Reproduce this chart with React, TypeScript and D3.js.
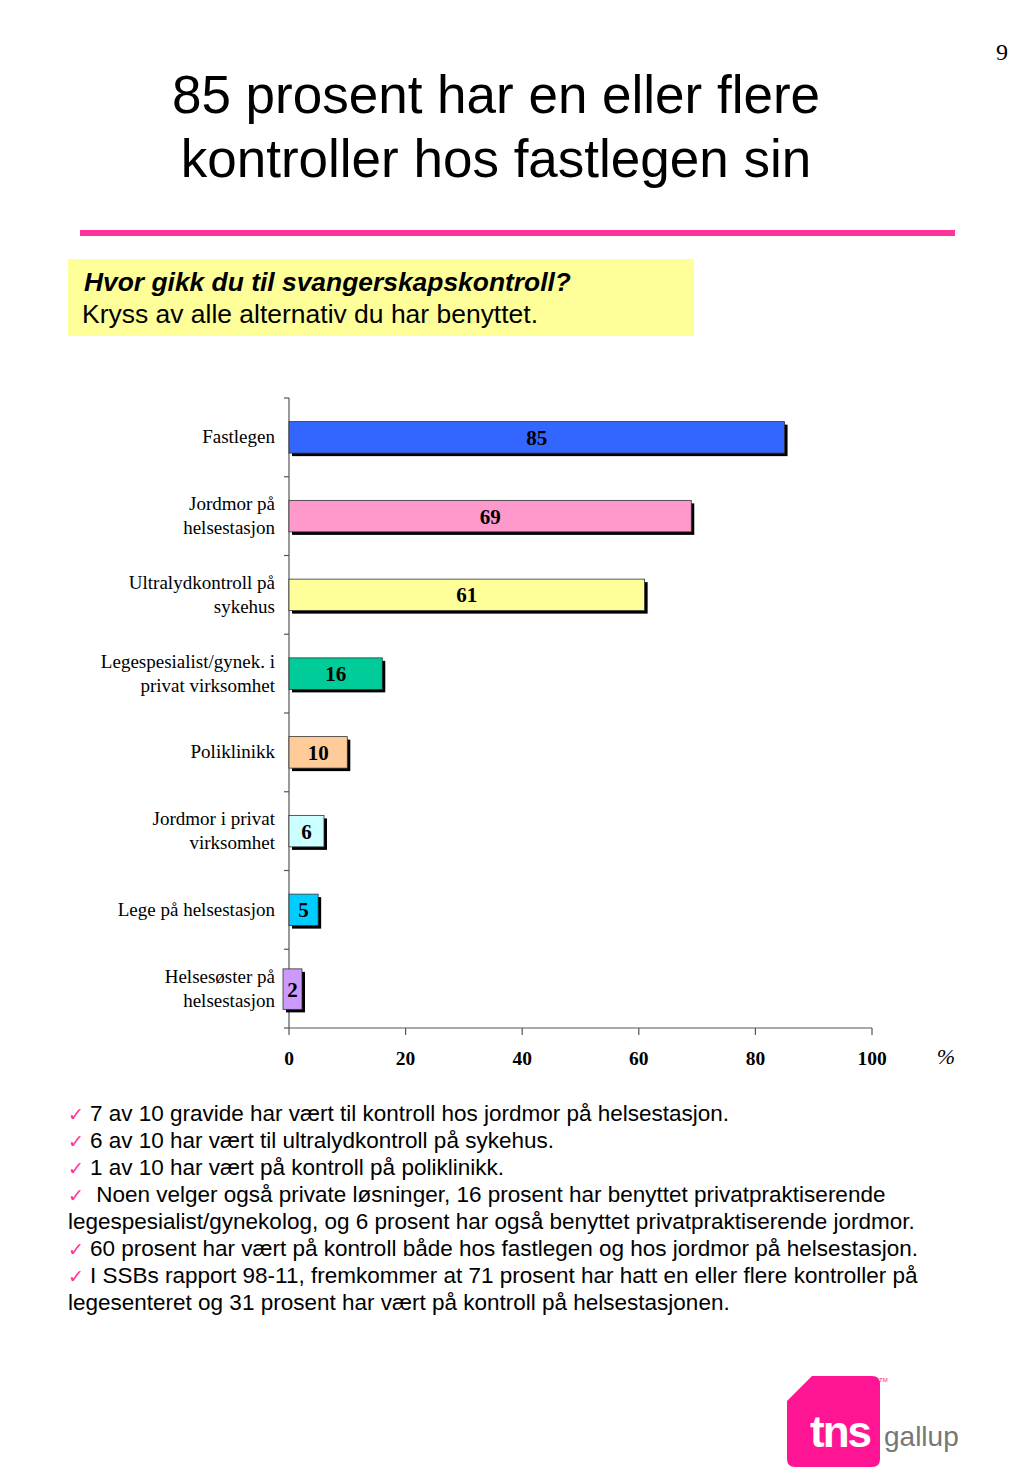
import React from "react";
import * as d3 from "d3";

const categories: string[][] = [
  ["Fastlegen"],
  ["Jordmor på", "helsestasjon"],
  ["Ultralydkontroll på", "sykehus"],
  ["Legespesialist/gynek. i", "privat virksomhet"],
  ["Poliklinikk"],
  ["Jordmor i privat", "virksomhet"],
  ["Lege på helsestasjon"],
  ["Helsesøster på", "helsestasjon"],
];
const values: number[] = [85, 69, 61, 16, 10, 6, 5, 2];
const colors: string[] = ["#3366FF", "#FF99CC", "#FFFF99", "#00CC99", "#FFCC99", "#CCFFFF", "#00CCFF", "#CC99FF"];
const xTicks: number[] = [0, 20, 40, 60, 80, 100];

const titleLines = ["85 prosent har en eller flere", "kontroller hos fastlegen sin"];
const questionLines = ["Hvor gikk du til svangerskapskontroll?", "Kryss av alle alternativ du har benyttet."];
const bullets: { check: boolean; text: string }[] = [
  { check: true, text: "7 av 10 gravide har vært til kontroll hos jordmor på helsestasjon." },
  { check: true, text: "6 av 10 har vært til ultralydkontroll på sykehus." },
  { check: true, text: "1 av 10 har vært på kontroll på poliklinikk." },
  { check: true, text: " Noen velger også private løsninger, 16 prosent har benyttet privatpraktiserende" },
  { check: false, text: "legespesialist/gynekolog, og 6 prosent har også benyttet privatpraktiserende jordmor." },
  { check: true, text: "60 prosent har vært på kontroll både hos fastlegen og hos jordmor på helsestasjon." },
  { check: true, text: "I SSBs rapport 98-11, fremkommer at 71 prosent har hatt en eller flere kontroller på" },
  { check: false, text: "legesenteret og 31 prosent har vært på kontroll på helsestasjonen." },
];

const serif = "'Liberation Serif', 'Times New Roman', serif";
const sans = "'Liberation Sans', Arial, Helvetica, sans-serif";

export default function App() {
  const x = d3.scaleLinear().domain([0, 100]).range([289, 872]);
  const idx = categories.map((_, i) => String(i));
  const y = d3.scaleBand<string>().domain(idx).range([398, 1028]).paddingInner(0.6).paddingOuter(0.3);
  const step = y.step();
  const bw = y.bandwidth();

  return (
    <svg width={1024} height={1479} style={{ position: "absolute", left: 0, top: 0, background: "#fff" }}>
      <text x={1002} y={60} fontFamily={serif} fontSize={24} textAnchor="middle">9</text>
      {titleLines.map((t, i) => (
        <text key={i} x={496} y={113 + i * 64} fontFamily={sans} fontSize={53} textAnchor="middle" fill="#000">{t}</text>
      ))}
      <rect x={80} y={230} width={875} height={6} fill="#FF3399" />
      <rect x={68} y={259} width={626} height={77} fill="#FFFF99" />
      <text x={84} y={291} fontFamily={sans} fontSize={25.5} fontWeight="bold" fontStyle="italic" textLength={487} lengthAdjust="spacingAndGlyphs">{questionLines[0]}</text>
      <text x={82} y={323} fontFamily={sans} fontSize={25.5} textLength={456} lengthAdjust="spacingAndGlyphs">{questionLines[1]}</text>

      {/* axes */}
      <line x1={x(0)} x2={x(0)} y1={398} y2={1028} stroke="#555" strokeWidth={1.2} />
      {d3.range(categories.length + 1).map((i) => (
        <line key={i} x1={x(0) - 5} x2={x(0)} y1={398 + i * step} y2={398 + i * step} stroke="#555" strokeWidth={1.2} />
      ))}
      <line x1={x(0)} x2={x(100)} y1={1028} y2={1028} stroke="#555" strokeWidth={1.2} />
      {xTicks.map((t) => (
        <g key={t}>
          <line x1={x(t)} x2={x(t)} y1={1028} y2={1035} stroke="#555" strokeWidth={1.2} />
          <text x={x(t)} y={1065} fontFamily={serif} fontSize={19.5} fontWeight="bold" textAnchor="middle">{t}</text>
        </g>
      ))}
      <text x={946} y={1064} fontFamily={serif} fontSize={22} fontStyle="italic" textAnchor="middle">%</text>

      {/* bars */}
      {values.map((v, i) => {
        const y0 = y(String(i))!;
        const w = x(v) - x(0);
        const small = w < 16;
        const bx = small ? x(0) - 6 : x(0);
        const bwid = small ? 19 : w;
        const by = small ? y0 - 4 : y0;
        const bh = small ? bw + 9 : bw;
        return (
          <g key={i}>
            <rect x={bx + 3} y={by + 3} width={bwid} height={bh} fill="#000" />
            <rect x={bx} y={by} width={bwid} height={bh} fill={colors[i]} stroke="#333" strokeWidth={0.8} />
            <text x={bx + bwid / 2} y={by + bh / 2 + 7.5} fontFamily={serif} fontSize={21} fontWeight="bold" textAnchor="middle">{v}</text>
          </g>
        );
      })}

      {/* category labels */}
      {categories.map((lines, i) => {
        const cy = y(String(i))! + bw / 2;
        const n = lines.length;
        return (
          <text key={i} fontFamily={serif} fontSize={19} textAnchor="end">
            {lines.map((l, j) => (
              <tspan key={j} x={275} y={cy + 6 + (j - (n - 1) / 2) * 24}>{l}</tspan>
            ))}
          </text>
        );
      })}

      {/* bullets */}
      {bullets.map((b, i) => (
        <text key={i} x={68} y={1121 + i * 27} fontFamily={sans} fontSize={22.5} xmlSpace="preserve">
          {b.check && <tspan fill="#FF3399" fontFamily="'DejaVu Sans', sans-serif" fontSize={19}>✓ </tspan>}
          <tspan>{b.text}</tspan>
        </text>
      ))}

      {/* logo */}
      <path d="M812,1376 L872,1376 Q880,1376 880,1384 L880,1459 Q880,1467 872,1467 L795,1467 Q787,1467 787,1459 L787,1401 Z" fill="#FF1493" />
      <text x={810} y={1447} fontFamily={sans} fontSize={44} fontWeight="bold" fill="#fff" letterSpacing={-2}>tns</text>
      <text x={884} y={1446} fontFamily={sans} fontSize={28} fill="#777">gallup</text>
      <text x={879} y={1382} fontFamily={sans} fontSize={6} fill="#FF1493">TM</text>
    </svg>
  );
}
